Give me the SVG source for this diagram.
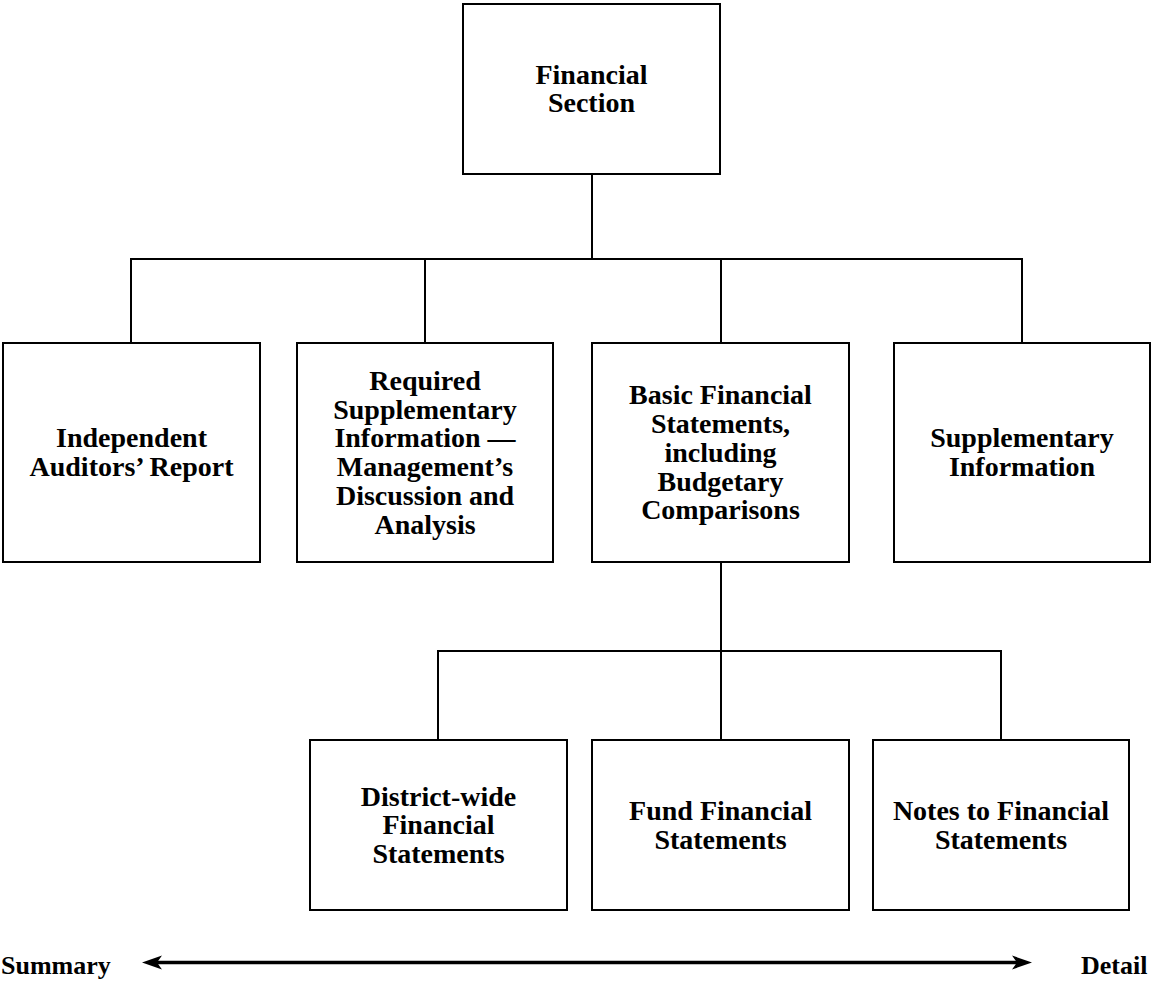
<svg xmlns="http://www.w3.org/2000/svg" width="1151" height="981" viewBox="0 0 1151 981">
<style>
.box{fill:#fff;stroke:#000;stroke-width:2}
.conn{fill:none;stroke:#000;stroke-width:2}
.lbl{font-family:"Liberation Serif","Times New Roman",serif;font-weight:bold;font-size:28px;text-anchor:middle;fill:#000}
.axis{font-family:"Liberation Serif","Times New Roman",serif;font-weight:bold;font-size:26px;fill:#000}
</style>
<rect width="1151" height="981" fill="#fff"/>
<g id="connectors">
<path class="conn" d="M592 174 V259"/>
<path class="conn" d="M131 343 V259 H1022 V343"/>
<path class="conn" d="M425 259 V343"/>
<path class="conn" d="M721 259 V343"/>
<path class="conn" d="M721 562 V740"/>
<path class="conn" d="M438 740 V651 H1001 V740"/>
</g>
<g id="financial-section">
<rect class="box" x="463" y="4" width="257" height="170"/>
<text class="lbl" x="591.5" y="83.6">Financial</text>
<text class="lbl" x="591.5" y="112.3">Section</text>
</g>
<g id="auditors-report">
<rect class="box" x="3" y="343" width="257" height="219"/>
<text class="lbl" x="131.5" y="447.2">Independent</text>
<text class="lbl" x="131.5" y="475.9">Auditors’ Report</text>
</g>
<g id="rsi-mda">
<rect class="box" x="297" y="343" width="256" height="219"/>
<text class="lbl" x="425" y="390">Required</text>
<text class="lbl" x="425" y="418.7">Supplementary</text>
<text class="lbl" x="425" y="447.4">Information —</text>
<text class="lbl" x="425" y="476.1">Management’s</text>
<text class="lbl" x="425" y="504.8">Discussion and</text>
<text class="lbl" x="425" y="533.5">Analysis</text>
</g>
<g id="basic-statements">
<rect class="box" x="592" y="343" width="257" height="219"/>
<text class="lbl" x="720.5" y="404.4">Basic Financial</text>
<text class="lbl" x="720.5" y="433.1">Statements,</text>
<text class="lbl" x="720.5" y="461.8">including</text>
<text class="lbl" x="720.5" y="490.5">Budgetary</text>
<text class="lbl" x="720.5" y="519.2">Comparisons</text>
</g>
<g id="supplementary-info">
<rect class="box" x="894" y="343" width="256" height="219"/>
<text class="lbl" x="1022" y="447.2">Supplementary</text>
<text class="lbl" x="1022" y="475.9">Information</text>
</g>
<g id="district-wide">
<rect class="box" x="310" y="740" width="257" height="170"/>
<text class="lbl" x="438.5" y="805.6">District-wide</text>
<text class="lbl" x="438.5" y="834.3">Financial</text>
<text class="lbl" x="438.5" y="863">Statements</text>
</g>
<g id="fund-statements">
<rect class="box" x="592" y="740" width="257" height="170"/>
<text class="lbl" x="720.5" y="820">Fund Financial</text>
<text class="lbl" x="720.5" y="848.7">Statements</text>
</g>
<g id="notes">
<rect class="box" x="873" y="740" width="256" height="170"/>
<text class="lbl" x="1001" y="820">Notes to Financial</text>
<text class="lbl" x="1001" y="848.7">Statements</text>
</g>
<g id="summary-detail-axis">
<line x1="155" y1="962.5" x2="1020" y2="962.5" stroke="#000" stroke-width="3.5"/>
<path d="M142 962.5 L162 955.5 L157 962.5 L162 969.5 Z" fill="#000"/>
<path d="M1032 962.5 L1012 955.5 L1017 962.5 L1012 969.5 Z" fill="#000"/>
<text class="axis" x="1" y="974">Summary</text>
<text class="axis" x="1081" y="974">Detail</text>
</g>
</svg>
